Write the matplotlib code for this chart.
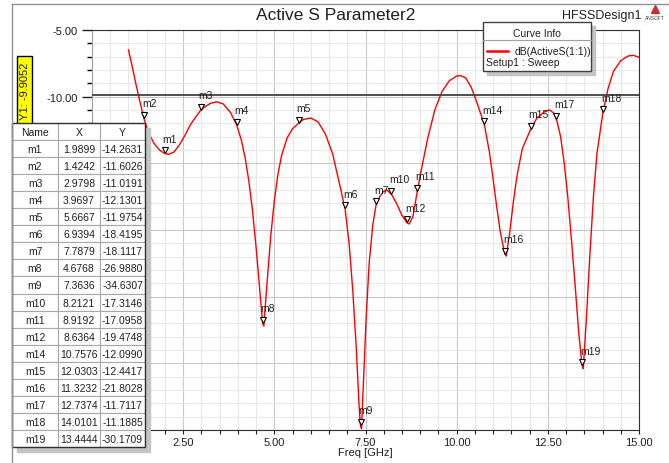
import matplotlib
matplotlib.use("Agg")
import matplotlib.pyplot as plt
from matplotlib.patches import Rectangle
from matplotlib.ticker import MultipleLocator, FuncFormatter
from matplotlib import transforms

plt.rcParams['font.family'] = ['Liberation Sans', 'DejaVu Sans']

# curve dB(ActiveS(1:1))
freq = [1.00, 1.10, 1.20, 1.30, 1.42, 1.55, 1.70, 1.85, 1.99, 2.10, 2.25, 2.40,
        2.55, 2.70, 2.85, 2.98, 3.10, 3.25, 3.42, 3.60, 3.80, 3.97, 4.10, 4.20,
        4.30, 4.40, 4.50, 4.60, 4.68, 4.71, 4.80, 4.90, 5.00, 5.10, 5.20, 5.35,
        5.50, 5.67, 5.80, 6.00, 6.20, 6.40, 6.60, 6.80, 6.94, 7.05, 7.15, 7.25,
        7.32, 7.36, 7.39, 7.45, 7.52, 7.60, 7.70, 7.79, 7.90, 8.00, 8.08, 8.21,
        8.35, 8.50, 8.64, 8.70, 8.80, 8.92, 9.00, 9.20, 9.40, 9.60, 9.80, 10.00,
        10.10, 10.25, 10.40, 10.55, 10.76, 10.90, 11.00, 11.10, 11.20, 11.32,
        11.36, 11.45, 11.55, 11.65, 11.80, 12.03, 12.20, 12.40, 12.55, 12.65,
        12.74, 12.85, 12.95, 13.05, 13.15, 13.25, 13.35, 13.44, 13.47, 13.55,
        13.65, 13.75, 13.85, 14.01, 14.15, 14.30, 14.50, 14.70, 14.85, 15.00]
s11_db = [-6.5, -7.7, -9.0, -10.2, -11.6, -12.7, -13.5, -14.0, -14.26, -14.33, -14.15, -13.6,
          -12.9, -12.1, -11.5, -11.02, -10.75, -10.5, -10.38, -10.55, -11.2, -12.13, -13.3, -14.6,
          -16.3, -18.5, -21.3, -24.5, -26.99, -27.2, -24.0, -20.5, -17.8, -15.8, -14.4, -13.1,
          -12.4, -11.98, -11.7, -11.6, -11.9, -12.8, -14.3, -16.7, -18.42, -21.0, -24.5, -29.0,
          -33.0, -34.63, -34.9, -31.0, -26.5, -22.5, -19.6, -18.11, -17.45, -17.1, -17.0, -17.31,
          -18.0, -18.9, -19.47, -19.55, -19.0, -17.1, -15.9, -13.2, -11.0, -9.6, -8.8, -8.45,
          -8.42, -8.6, -9.3, -10.4, -12.1, -14.2, -16.2, -18.3, -20.2, -21.8,
          -21.95, -20.3, -18.0, -16.0, -13.9, -12.44, -11.6, -11.15, -11.0, -11.2,
          -11.71, -13.0, -15.0, -17.6, -20.8, -24.2, -27.8, -30.17, -30.4, -27.0,
          -22.0, -17.5, -14.2, -11.19, -9.4, -8.1, -7.3, -6.95, -6.9, -7.05]

marker_names = ['m1', 'm2', 'm3', 'm4', 'm5', 'm6', 'm7', 'm8', 'm9', 'm10',
                'm11', 'm12', 'm14', 'm15', 'm16', 'm17', 'm18', 'm19']
marker_x = [1.9899, 1.4242, 2.9798, 3.9697, 5.6667, 6.9394, 7.7879, 4.6768, 7.3636,
            8.2121, 8.9192, 8.6364, 10.7576, 12.0303, 11.3232, 12.7374, 14.0101, 13.4444]
marker_y = [-14.2631, -11.6026, -11.0191, -12.1301, -11.9754, -18.4195, -18.1117,
            -26.9880, -34.6307, -17.3146, -17.0958, -19.4748, -12.0990, -12.4417,
            -21.8028, -11.7117, -11.1885, -30.1709]

y_marker = -9.9052

fig = plt.figure(figsize=(6.69, 4.64), dpi=100)
ax = fig.add_axes([92 / 669, 33 / 464, 547 / 669, 400 / 464])

ax.plot(freq, s11_db, color='#ff0000', lw=1.0, zorder=3)
ax.axhline(y_marker, color='#404040', lw=1.3, zorder=4)

tri = transforms.offset_copy(ax.transData, fig=fig, x=0, y=3.5, units='dots')
ax.plot(marker_x, marker_y, ls='none', marker='v', ms=5, mfc='white',
        mec='black', mew=0.8, transform=tri, zorder=5)
for name, mx, my in zip(marker_names, marker_x, marker_y):
    ax.annotate(name, (mx, my), xytext=(-2, 15), textcoords='offset pixels',
                ha='left', va='center', fontsize=7.5, color='#202020', zorder=6)

ax.set_xlim(0, 15)
ax.set_ylim(-35, -5)
ax.xaxis.set_major_locator(MultipleLocator(2.5))
ax.xaxis.set_minor_locator(MultipleLocator(0.5))
ax.yaxis.set_major_locator(MultipleLocator(5))
ax.yaxis.set_minor_locator(MultipleLocator(1))
# labels sitting under the marker table are not shown
ax.xaxis.set_major_formatter(FuncFormatter(lambda v, p: '' if v < 1 else f'{v:.2f}'))
ax.yaxis.set_major_formatter(FuncFormatter(lambda v, p: '' if v < -12 else f'{v:.2f}'))
ax.grid(which='minor', color='#e8e8e8', lw=0.8)
ax.grid(which='major', color='#c8c8c8', lw=0.8)
ax.set_axisbelow(True)
ax.tick_params(axis='y', which='major', direction='out', length=7.2, width=1, pad=3,
               labelsize=8, colors='#202020')
ax.tick_params(axis='y', which='minor', direction='out', length=3.6, width=1)
ax.tick_params(axis='x', which='both', direction='out', length=3, width=0.8, pad=2,
               labelsize=8, colors='#202020')
for side in ['top', 'right', 'bottom']:
    ax.spines[side].set_color('#303030')
ax.spines['left'].set_color('#a0a0a0')
ax.set_xlabel('Freq [GHz]', fontsize=8, labelpad=0, color='#202020')

# overlay in pixel coords for the decorations
ov = fig.add_axes([0, 0, 1, 1], zorder=10)
ov.set_xlim(0, 669)
ov.set_ylim(464, 0)
ov.axis('off')
ov.patch.set_alpha(0)

ov.plot([12, 12], [464, 5], color='#909090', lw=1)
ov.plot([12, 669], [5, 5], color='#909090', lw=1)

fig.text(336 / 669, 1 - 16 / 464, 'Active S Parameter2', ha='center', va='center',
         fontsize=12.5, color='#202020')
fig.text(602 / 669, 1 - 16 / 464, 'HFSSDesign1', ha='center', va='center',
         fontsize=9, color='#202020')
ov.plot([655], [10], marker='^', ms=6, color='#c83030')
ov.text(655, 19, 'ANSOFT', ha='center', va='center', fontsize=3.5, color='#404040')

# legend box
ov.add_patch(Rectangle((487, 27), 108, 49, color='#c4c4c4'))
ov.add_patch(Rectangle((483, 23), 108, 49, fc='white', ec='#404040', lw=1))
ov.plot([483, 591], [41, 41], color='#a0a0a0', lw=0.8)
ov.text(537, 34, 'Curve Info', ha='center', va='center', fontsize=7.5, color='#202020')
ov.plot([487, 508], [52, 52], color='#ff0000', lw=1.8)
ov.text(515, 52, 'dB(ActiveS(1:1))', ha='left', va='center', fontsize=7.5, color='#202020')
ov.text(486, 63, 'Setup1 : Sweep', ha='left', va='center', fontsize=7.5, color='#202020')

# yellow Y marker label
ov.add_patch(Rectangle((17, 57), 15, 78, fc='#ffff00', ec='black', lw=1))
ov.text(24.5, 91, 'Y1: -9.9052', rotation=90, ha='center', va='center', fontsize=8,
        color='#202020')

# marker table
col_x = [12, 58, 100, 145]
top = 124
row_h = 17.05
n_rows = len(marker_names) + 1
ov.add_patch(Rectangle((17, top + 5), col_x[-1] - col_x[0], n_rows * row_h, color='#c4c4c4'))
rows = [['Name', 'X', 'Y']] + [[n, f'{x:.4f}', f'{y:.4f}']
                               for n, x, y in zip(marker_names, marker_x, marker_y)]
for r, row in enumerate(rows):
    y0 = top + r * row_h
    for c in range(3):
        ov.add_patch(Rectangle((col_x[c], y0), col_x[c + 1] - col_x[c], row_h,
                               fc='white', ec='#a8a8a8', lw=0.8))
        ov.text((col_x[c] + col_x[c + 1]) / 2, y0 + row_h / 2 + 0.5, row[c],
                ha='center', va='center', fontsize=7.5, color='#202020')
ov.add_patch(Rectangle((col_x[0], top), col_x[-1] - col_x[0], n_rows * row_h,
                       fill=False, ec='#303030', lw=1))

fig.savefig('out.png', dpi=100)
